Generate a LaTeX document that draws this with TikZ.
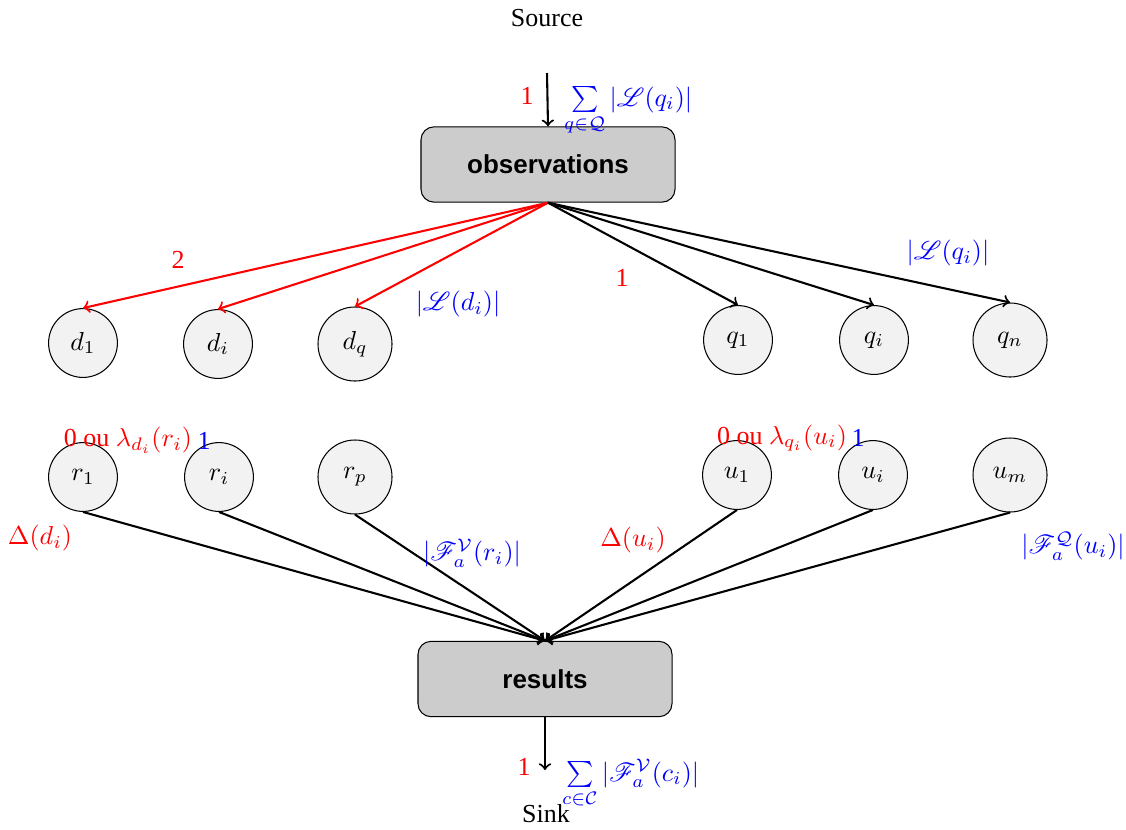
\documentclass[tikz,border=0pt]{standalone}
\usepackage{amsmath,mathrsfs}
\usepackage{fontspec}
\setmainfont{Liberation Serif}
\newfontfamily\heros{Liberation Sans}
\begin{document}
\begin{tikzpicture}[x=0.385pt,y=-0.385pt,
  circ/.style={circle, draw, fill=gray!10, minimum size=26.5pt, inner sep=1pt, line width=0.4pt},
  bigcirc/.style={circ, minimum size=28.5pt},
  box/.style={rectangle, rounded corners=5pt, draw, fill=gray!40, minimum width=97.8pt, minimum height=29pt, font=\heros\bfseries, line width=0.4pt},
  flow/.style={->, line width=0.8pt},
  redflow/.style={flow, red},
  rl/.style={text=red, inner sep=1pt},
  bl/.style={text=blue, inner sep=1pt}]
\useasboundingbox (0,0) rectangle (1126,829);

% source / sink
\node (source) at (547,18) {Source};
\coordinate (srcend) at (547,73);
\node (sink) at (546,814) {Sink};
\coordinate (sinkend) at (545,770);

% boxes
\node[box] (obs) at (548,164.5) {observations};
\node[box] (res) at (545,679) {results};

% first row
\node[circ] (d1) at (83,343) {$d_1$};
\node[circ] (di) at (218,344) {$d_i$};
\node[bigcirc] (dq) at (355,344) {$d_q$};
\node[circ] (q1) at (738,340) {$q_1$};
\node[circ] (qi) at (874,340) {$q_i$};
\node[bigcirc] (qn) at (1010,340) {$q_n$};

% second row
\node[circ] (r1) at (83,477) {$r_1$};
\node[circ] (ri) at (219,477) {$r_i$};
\node[bigcirc] (rp) at (355,477) {$r_p$};
\node[circ] (u1) at (737,475) {$u_1$};
\node[circ] (ui) at (873,475) {$u_i$};
\node[bigcirc] (um) at (1010,475) {$u_m$};

% connectors
\draw[flow] (srcend) -- (obs.north);
\draw[redflow] (obs.south) -- (d1.north);
\draw[redflow] (obs.south) -- (di.north);
\draw[redflow] (obs.south) -- (dq.north);
\draw[flow] (obs.south) -- (q1.north);
\draw[flow] (obs.south) -- (qi.north);
\draw[flow] (obs.south) -- (qn.north);
\foreach \n in {r1,ri,rp,u1,ui,um}{
  \draw[flow] (\n.south) -- (res.north);
}
\draw[flow] (res.south) -- (sinkend);

% labels
\node[rl] (l1) at (527,96) {1};
\node[bl, anchor=base west] (lsum) at (561,106) {$\sum\limits_{q\in\mathcal{Q}} |\mathscr{L}(q_i)|$};
\node[rl] (l2) at (178,260) {2};
\node[bl] (lld) at (458,304) {$|\mathscr{L}(d_i)|$};
\node[rl] (l3) at (622,278) {1};
\node[bl] (llq) at (948,253) {$|\mathscr{L}(q_i)|$};

\node[rl] (lamd) at (128,440) {0 ou $\lambda_{d_i}(r_i)$};
\node[bl] (l4) at (204,441) {1};
\node[rl] (lamq) at (782,438) {0 ou $\lambda_{q_i}(u_i)$};
\node[bl] (l5) at (858,438) {1};

\node[rl] (deld) at (40,538) {$\Delta(d_i)$};
\node[bl] (fr) at (472,553) {$|\mathscr{F}_a^{\mathcal{V}}(r_i)|$};
\node[rl] (delu) at (633,540) {$\Delta(u_i)$};
\node[bl] (fu) at (1073,546) {$|\mathscr{F}_a^{\mathcal{Q}}(u_i)|$};

\node[rl] (l6) at (524,767) {1};
\node[bl, anchor=base west] (csum) at (559,781) {$\sum\limits_{c\in\mathcal{C}} |\mathscr{F}_a^{\mathcal{V}}(c_i)|$};
\end{tikzpicture}
\end{document}
